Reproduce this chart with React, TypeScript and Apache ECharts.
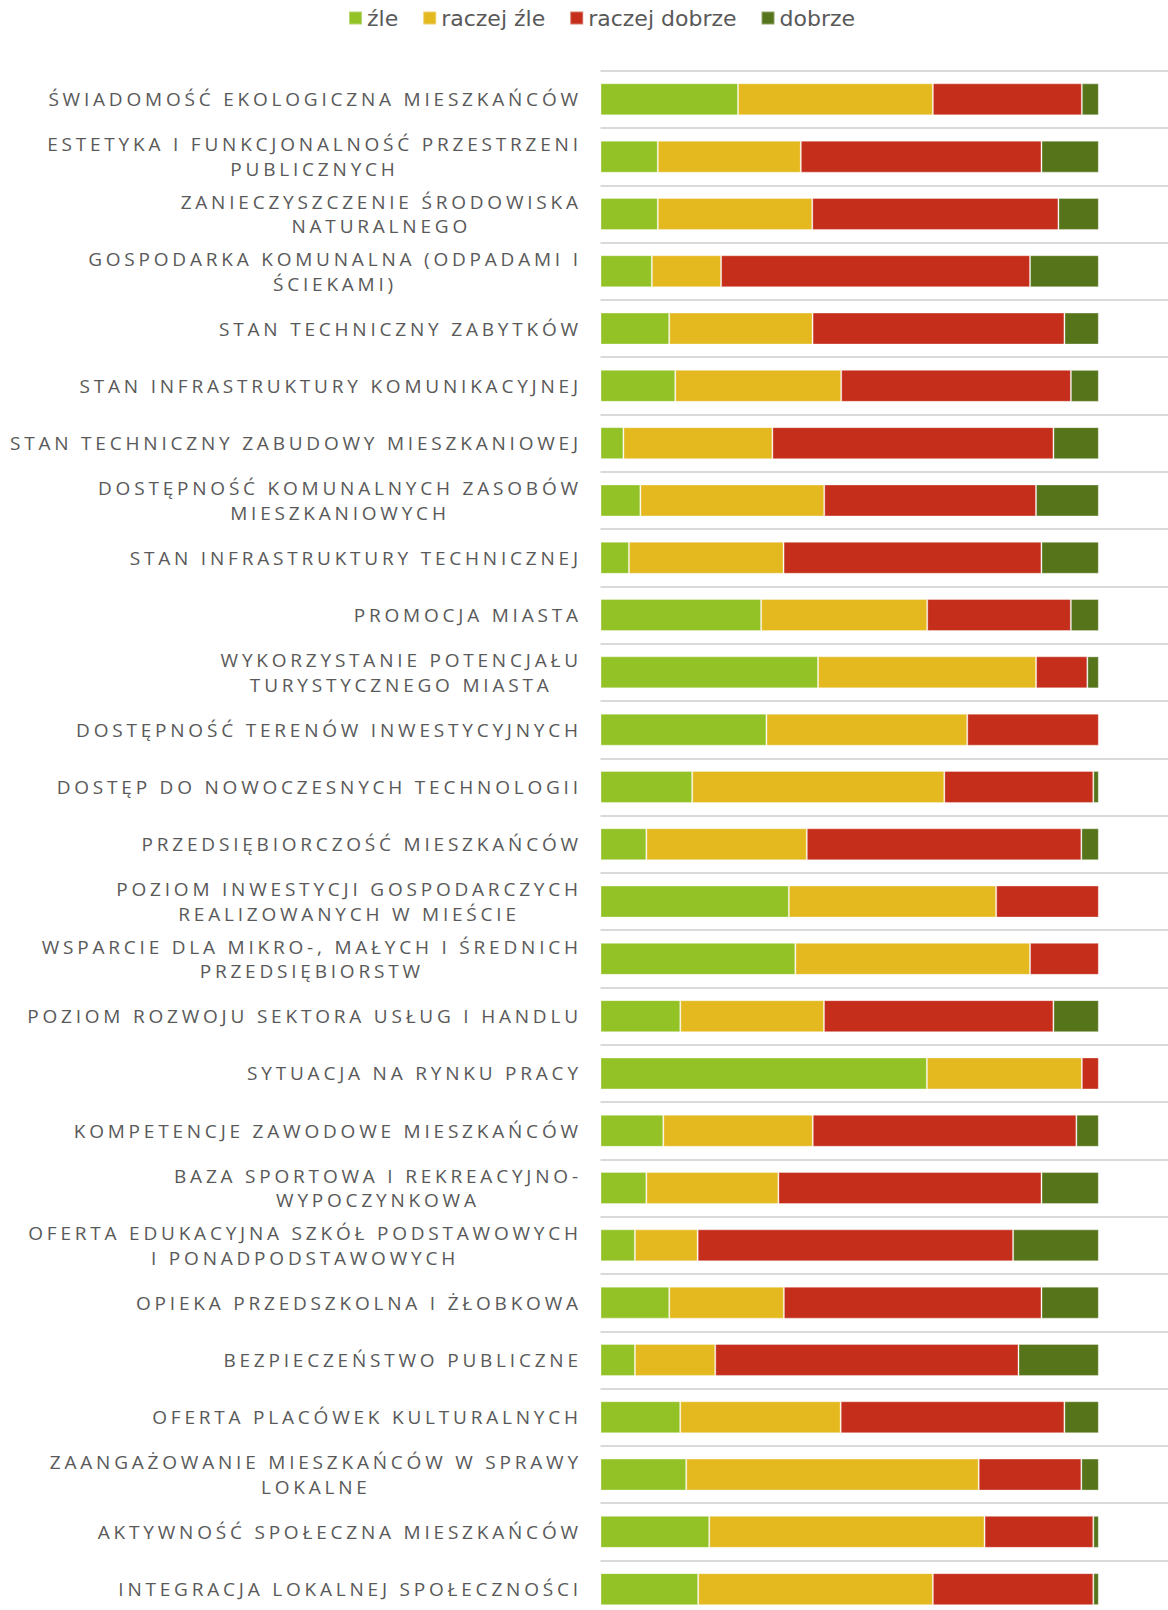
import React, { useEffect, useRef } from 'react';
import * as echarts from 'echarts';

const categories = [
  'ŚWIADOMOŚĆ EKOLOGICZNA MIESZKAŃCÓW',
  'ESTETYKA I FUNKCJONALNOŚĆ PRZESTRZENI\nPUBLICZNYCH',
  'ZANIECZYSZCZENIE ŚRODOWISKA\nNATURALNEGO',
  'GOSPODARKA KOMUNALNA (ODPADAMI I\nŚCIEKAMI)',
  'STAN TECHNICZNY ZABYTKÓW',
  'STAN INFRASTRUKTURY KOMUNIKACYJNEJ',
  'STAN TECHNICZNY ZABUDOWY MIESZKANIOWEJ',
  'DOSTĘPNOŚĆ KOMUNALNYCH ZASOBÓW\nMIESZKANIOWYCH',
  'STAN INFRASTRUKTURY TECHNICZNEJ',
  'PROMOCJA MIASTA',
  'WYKORZYSTANIE POTENCJAŁU\nTURYSTYCZNEGO MIASTA',
  'DOSTĘPNOŚĆ TERENÓW INWESTYCYJNYCH',
  'DOSTĘP DO NOWOCZESNYCH TECHNOLOGII',
  'PRZEDSIĘBIORCZOŚĆ MIESZKAŃCÓW',
  'POZIOM INWESTYCJI GOSPODARCZYCH\nREALIZOWANYCH W MIEŚCIE',
  'WSPARCIE DLA MIKRO-, MAŁYCH I ŚREDNICH\nPRZEDSIĘBIORSTW',
  'POZIOM ROZWOJU SEKTORA USŁUG I HANDLU',
  'SYTUACJA NA RYNKU PRACY',
  'KOMPETENCJE ZAWODOWE MIESZKAŃCÓW',
  'BAZA SPORTOWA I REKREACYJNO-\nWYPOCZYNKOWA',
  'OFERTA EDUKACYJNA SZKÓŁ PODSTAWOWYCH\nI PONADPODSTAWOWYCH',
  'OPIEKA PRZEDSZKOLNA I ŻŁOBKOWA',
  'BEZPIECZEŃSTWO PUBLICZNE',
  'OFERTA PLACÓWEK KULTURALNYCH',
  'ZAANGAŻOWANIE MIESZKAŃCÓW W SPRAWY\nLOKALNE',
  'AKTYWNOŚĆ SPOŁECZNA MIESZKAŃCÓW',
  'INTEGRACJA LOKALNEJ SPOŁECZNOŚCI',
];

const seriesNames = ['źle', 'raczej źle', 'raczej dobrze', 'dobrze'];

const zle = [27.6, 11.5, 11.5, 10.3, 13.8, 15.0, 4.6, 8.0, 5.7, 32.2, 43.7, 33.3, 18.4, 9.2, 37.8, 39.1, 16.0, 65.5, 12.6, 9.2, 6.9, 13.8, 6.9, 16.0, 17.2, 21.8, 19.6];
const raczejZle = [39.1, 28.7, 31.0, 13.9, 28.8, 33.3, 29.9, 36.9, 31.0, 33.3, 43.8, 40.3, 50.6, 32.2, 41.6, 47.1, 28.8, 31.1, 30.0, 26.5, 12.6, 23.0, 16.1, 32.2, 58.7, 55.2, 47.1];
const raczejDobrze = [29.9, 48.3, 49.4, 62.0, 50.6, 46.1, 56.4, 42.5, 51.7, 28.8, 10.3, 26.4, 29.9, 55.1, 20.6, 13.8, 46.0, 3.4, 52.9, 52.8, 63.3, 51.7, 60.8, 44.9, 20.6, 21.8, 32.2];
const dobrze = [3.4, 11.5, 8.1, 13.8, 6.9, 5.6, 9.1, 12.6, 11.5, 5.6, 2.3, 0, 1.1, 3.5, 0, 0, 9.1, 0, 4.5, 11.5, 17.2, 11.5, 16.1, 6.9, 3.5, 1.1, 1.1];

const colors = ['#92C225', '#E4B91F', '#C42E1A', '#567419'];

const LABEL_SIZE = 19;
const LABEL_FONT = 'Open Sans';
const REF_LINE = 'STAN TECHNICZNY ZABUDOWY MIESZKANIOWEJ';
const REF_WIDTH = 568;
const LABEL_RIGHT = 578;
const LINE_H = 24.6;

const GRID_LEFT = 600.5;
const GRID_WIDTH = 567.5;
const FULL_BAR = 498.3;

export default function App() {
  const ref = useRef<HTMLDivElement>(null);

  useEffect(() => {
    if (!ref.current) return;
    const canvas = document.createElement('canvas');
    const ctx = canvas.getContext('2d')!;
    ctx.font = `${LABEL_SIZE}px "${LABEL_FONT}"`;
    const nat = ctx.measureText(REF_LINE).width;
    const ls = (REF_WIDTH - nat) / (REF_LINE.length - 1);
    const visW = (s: string) => ctx.measureText(s).width + (s.length - 1) * ls;

    const styleEl = document.createElement('style');
    styleEl.textContent = `#chartbox text[style*="${LABEL_SIZE}px"], #chartbox text[font-size="${LABEL_SIZE}"], #chartbox text[font-size="${LABEL_SIZE}px"] { letter-spacing: ${ls}px; }`;
    document.head.appendChild(styleEl);

    const raw = [zle, raczejZle, raczejDobrze, dobrze];
    const totals = categories.map((_, i) => raw.reduce((s, a) => s + a[i], 0));

    const chart = echarts.init(ref.current, null, { renderer: 'svg' });
    const option: any = {
      animation: false,
      legend: {
        data: seriesNames,
        left: 348,
        top: 7,
        padding: 0,
        itemWidth: 13,
        itemHeight: 13,
        itemGap: 24,
        icon: 'rect',
        textStyle: { fontSize: 22, fontFamily: 'DejaVu Sans', color: '#595959' },
      },
      grid: { left: GRID_LEFT, top: 70.7, width: GRID_WIDTH, height: 1547.1, outerBoundsMode: 'none' },
      xAxis: { type: 'value', min: 0, max: (GRID_WIDTH / FULL_BAR) * 100, show: false },
      yAxis: {
        type: 'category',
        data: categories,
        inverse: true,
        axisLine: { show: false },
        axisTick: { show: false, interval: 0 },
        axisLabel: { show: false, interval: 0 },
        splitLine: { show: true, interval: 0, lineStyle: { color: '#D9D9D9', width: 2 } },
      },
      series: [
        ...raw.map((arr, k) => ({
          name: seriesNames[k],
          type: 'bar',
          stack: 'total',
          barWidth: 32,
          itemStyle: { color: colors[k], borderColor: 'rgba(255,255,255,0.35)', borderWidth: 1 },
          data: arr.map((v, i) => (v > 0 ? (v / totals[i]) * 100 : null)),
        })),
        {
          name: 'labels',
          type: 'custom',
          silent: true,
          clip: false,
          data: categories.map((_, i) => [0, i]),
          encode: { x: 0, y: 1 },
          renderItem: (params: any, api: any) => {
            const i = api.value(1);
            const pt = api.coord([0, i]);
            const lines = categories[i].split('\n');
            const blockW = Math.max(...lines.map(visW));
            const cx = LABEL_RIGHT - blockW / 2 + ls / 2;
            return {
              type: 'group',
              children: lines.map((ln, k) => ({
                type: 'text',
                x: cx,
                y: pt[1] + (k - (lines.length - 1) / 2) * LINE_H,
                style: {
                  text: ln,
                  fontSize: LABEL_SIZE,
                  fontFamily: LABEL_FONT,
                  fill: '#595959',
                  align: 'center',
                  verticalAlign: 'middle',
                },
              })),
            };
          },
        },
      ],
    };
    chart.setOption(option);
    return () => {
      chart.dispose();
      styleEl.remove();
    };
  }, []);

  return (
    <div
      id="chartbox"
      ref={ref}
      style={{ position: 'absolute', left: 0, top: 0, width: 1168, height: 1610, background: '#fff' }}
    />
  );
}
